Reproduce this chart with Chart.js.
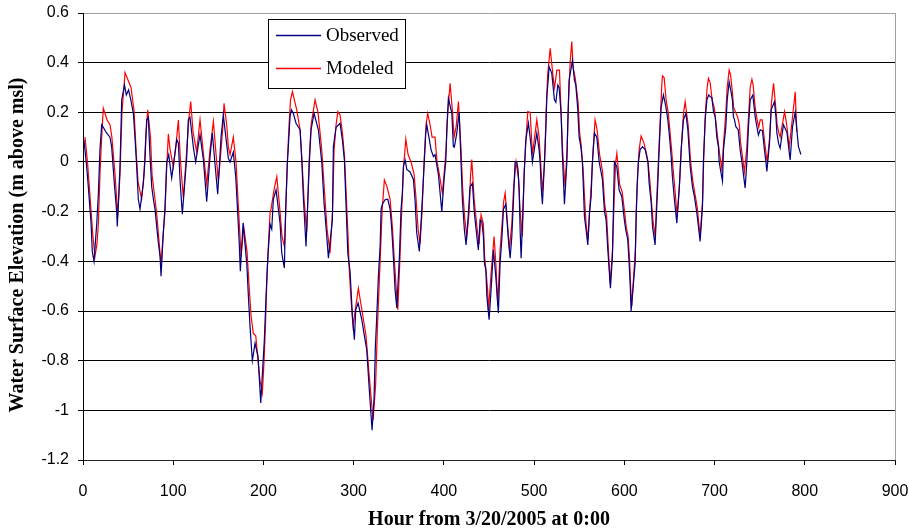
<!DOCTYPE html>
<html>
<head>
<meta charset="utf-8">
<style>
  html, body { margin: 0; padding: 0; background: #fff; }
  #wrap { width: 909px; height: 532px; position: relative; }
</style>
<script src="https://cdn.jsdelivr.net/npm/chart.js@4.4.1/dist/chart.umd.min.js"></script>
</head>
<body>
<div id="wrap"><canvas id="c" width="909" height="532"></canvas></div>
<script>
const xTickValues = [0, 100, 200, 300, 400, 500, 600, 700, 800, 900];
const yTickValues = [-1.2, -1.0, -0.8, -0.6, -0.4, -0.2, 0, 0.2, 0.4, 0.6];
const seriesNames = ['Observed', 'Modeled'];
const xTitle = 'Hour from 3/20/2005 at 0:00';
const yTitle = 'Water Surface Elevation (m above msl)';

const obsHours = [1,4.1,5.9,8.9,10.3,12.2,15.2,17,18.8,20.7,22.5,25.5,29.9,31.8,34.7,37.4,38,41,42.9,46,48,50.5,53,55.8,57.6,59.5,61.3,63.2,66.9,68.7,70.6,72.4,74.3,76.2,78,79.8,81.7,83.5,85.4,86.5,89,90.9,92.8,95,98.3,103.9,105.7,107.5,110.1,115,116.7,118.6,122.3,124.9,129.7,133.4,137.1,140.8,143.3,149.3,153,155.5,159.3,161.1,163,166.6,169.3,171.5,173,174.4,177.4,181.5,183.3,185.1,187.7,190.7,194,196.2,197,201,202.9,204.8,207.3,209.2,211,214,218.4,220.3,223.2,224.7,226.5,227.6,229.5,231,233.1,236.1,240.6,242.5,244.2,247.2,250.9,252.8,256.1,260.9,264.6,267.2,270.2,272,276.4,277.5,280.5,284.9,287.5,289.7,291.2,293.5,296,298.6,300.8,302.3,304.9,309,312.6,314.5,317,320.4,322.6,324,325.6,327.4,329.3,330.4,331.8,334.8,337.8,340.4,342.2,344,345.9,347.8,350.7,352.5,354,355.1,357,358.9,362.5,366.2,368,369.9,372.8,375.5,378,379.9,381,385.8,388.4,390.2,393.9,397.7,400.2,402.1,403.2,405,408.8,410.5,411.6,414.3,416.9,419,420.5,422.7,424.6,427.2,429,431.6,433.8,436.5,438.2,440.1,442,443.8,444.9,446.5,447.6,450.1,452.3,454.9,457.5,460.4,462.3,464.2,466,468.6,471.5,473.4,475.3,477,478.9,480.8,482.2,483.4,484.5,485.6,489.2,490.8,493.7,496.7,498.1,503,505.5,506.7,507.8,509.2,511.1,513,514.1,515.9,516.6,519.6,522.5,524.1,526.3,527.7,529.9,531.4,533.6,536.3,537.4,538.8,542.5,544.7,546.2,548.4,549.9,551.8,553.5,554.7,555.8,557.6,559.5,561.3,563.2,564.6,566.9,569.5,572.1,575.7,578,579.8,581.7,584.6,586.8,587.9,589,591.6,594.2,597.2,600,601.6,603.8,605.3,606.4,607.5,610.1,612,613.1,614.2,615.6,617.5,620.1,623.1,626.1,627.5,629.8,631.2,634.1,637.1,638.6,639.7,640.8,643.3,646,648.2,649.7,651.9,653.3,655.5,658.2,660.8,663,665.5,668.2,670.4,673,675.5,677.7,680.4,684,686.6,687.7,689.6,691.5,693.5,695.1,697,698.8,700.7,702.5,704.3,705.1,708.8,709.9,712.5,714,716.2,718.4,719.8,720.9,722.1,723.6,726.2,728.4,730.3,733.9,735.8,737.6,739.5,742.4,745,746.9,748.6,750.6,753.1,755.3,756.9,758,760.9,762.7,766.4,768,769.1,770.9,772.7,776.4,780.2,782,783.8,786.4,789.4,793,795.7];
const obsValues = [0.09,-0.02,-0.10,-0.245,-0.36,-0.40,-0.25,-0.13,0.05,0.15,0.14,0.12,0.10,0.06,-0.085,-0.205,-0.26,-0.02,0.25,0.31,0.27,0.29,0.25,0.196,0.10,-0.02,-0.15,-0.19,-0.085,0.008,0.17,0.18,0.022,-0.10,-0.15,-0.19,-0.26,-0.325,-0.38,-0.46,-0.286,-0.18,0.0,0.03,-0.065,0.09,0.076,-0.07,-0.21,0.02,0.17,0.18,0.06,0.0,0.11,0.01,-0.16,0.02,0.117,-0.13,0.10,0.19,0.07,0.015,0.0,0.04,-0.06,-0.21,-0.313,-0.44,-0.246,-0.407,-0.54,-0.66,-0.80,-0.73,-0.783,-0.92,-0.97,-0.716,-0.54,-0.39,-0.25,-0.27,-0.15,-0.112,-0.246,-0.367,-0.427,-0.18,-0.005,0.062,0.183,0.21,0.196,0.156,0.13,0.008,-0.14,-0.34,0.0,0.13,0.196,0.129,0.0,-0.166,-0.3,-0.387,-0.233,0.062,0.14,0.156,0.089,0.008,-0.14,-0.367,-0.44,-0.62,-0.716,-0.595,-0.568,-0.635,-0.716,-0.756,-0.90,-1.08,-0.95,-0.75,-0.62,-0.46,-0.34,-0.19,-0.17,-0.152,-0.15,-0.19,-0.27,-0.38,-0.515,-0.588,-0.38,-0.19,-0.125,-0.018,0.008,-0.03,-0.04,-0.07,-0.152,-0.286,-0.36,-0.19,-0.02,0.116,0.15,0.049,0.022,0.03,-0.05,-0.2,-0.07,0.0,0.13,0.257,0.196,0.062,0.06,0.116,0.2,0.0,-0.152,-0.273,-0.334,-0.206,-0.1,-0.085,-0.206,-0.3,-0.354,-0.233,-0.24,-0.3,-0.407,-0.434,-0.54,-0.635,-0.515,-0.354,-0.46,-0.608,-0.407,-0.313,-0.19,-0.17,-0.313,-0.387,-0.30,-0.166,0.0,0.0,-0.03,-0.112,-0.273,-0.387,-0.03,0.089,0.156,0.062,0.0,0.116,0.05,0.0,-0.1,-0.17,-0.03,0.13,0.263,0.344,0.384,0.357,0.25,0.24,0.31,0.30,0.196,0.022,-0.17,0.0,0.17,0.33,0.41,0.33,0.31,0.21,0.1,0.062,0.0,-0.112,-0.22,-0.273,-0.334,-0.206,-0.14,0.0,0.116,0.10,0.0,-0.07,-0.2,-0.233,-0.354,-0.508,-0.38,-0.19,0.0,-0.018,-0.112,-0.14,-0.233,-0.273,-0.313,-0.407,-0.488,-0.60,-0.488,-0.407,-0.22,-0.1,0.0,0.05,0.062,0.05,0.0,-0.085,-0.166,-0.26,-0.334,-0.085,0.049,0.142,0.22,0.27,0.223,0.17,0.116,0.022,-0.06,-0.152,-0.246,-0.112,0.049,0.17,0.196,0.13,-0.018,-0.1,-0.14,-0.206,-0.32,-0.18,0.008,0.17,0.25,0.27,0.263,0.26,0.203,0.183,0.10,0.062,0.0,-0.078,0.049,0.142,0.25,0.323,0.28,0.25,0.183,0.17,0.142,0.13,0.049,0.0,-0.105,0.0,0.142,0.25,0.27,0.183,0.142,0.109,0.13,0.126,0.049,0.0,-0.038,0.076,0.21,0.243,0.183,0.116,0.076,0.056,0.15,0.12,0.062,0.008,0.142,0.2,0.062,0.03];

const modHours = [2.2,5,8,11,13.3,15.5,17,18.8,20.7,22.5,26.6,29.9,32,35.5,37.7,38.5,41,43.2,46.6,49.9,53.2,56.5,58.8,61,65,67.6,69.5,71.7,74.8,76.5,79.8,82,84.3,86.5,88.7,90.9,92.8,94.6,96.5,100.1,103.1,105.7,108.1,111.2,115,117.5,119.4,122,126,129.7,133,137.1,140.8,144.5,150,153,155.2,156.3,159.3,161.1,163,166.6,169.6,171.8,174,175.2,178.1,181.8,184.1,186.3,188.8,191.5,194,196.2,198.8,200.7,202.3,204,205.7,207.3,208.4,211.8,214.8,218.4,220.6,223.2,224.7,226.5,228.4,230,232.1,236.9,240.6,242.8,245,248,250.6,252.8,257.2,260.5,264.6,267.7,270.5,273.8,276.6,278.3,280.5,282.4,284.9,287.5,289.9,291.6,293.8,294.9,297.1,299.3,305.2,309.3,313.7,317,321.5,324.3,326.5,328.2,329.9,331.5,334,337,340.4,343.1,344.8,347,348.9,351.4,353.3,355.3,357.8,360.3,363.6,367,369.2,371.4,373.6,375.8,378,380.2,382.1,384.7,386.9,390.2,392.4,395,398.3,400.2,402.4,404.3,406.9,409.6,411.3,413.6,416.1,419,420.7,422.9,425.4,428,429.6,430.9,433.5,436.9,439,441.2,443.8,445.1,446.8,448.5,449.4,452.3,455.6,457.8,459.7,462.3,464.5,466.2,467.9,471.2,472.6,475.3,477.3,480,482.8,484.5,487,488.9,491.1,493,495.6,496.8,498.1,503,505.5,507.2,509.2,511.6,513.3,515,517.8,518.9,521.4,522.7,525.2,528.1,529.9,531.5,534.3,536.6,538.2,539.9,541.8,543.2,545.5,548.8,550.4,552.1,554.3,556,557.6,559.9,561.5,563.2,565.4,567.6,569.8,572.6,575.9,578.2,580.4,582,584.3,587,588.7,590.4,591.7,594.8,597.6,600.6,602,604.2,605.9,607,608.3,610.5,612.3,613.4,614.7,616.4,618.6,621.4,624.2,626.4,628.6,630.3,631.9,634.1,637.1,638.9,640.2,641.4,642.2,644.1,646.3,648.6,650.2,652.4,654.1,656.3,658.5,661.3,663.5,665.7,667.4,670.7,673.5,676,677.9,680.7,684,686.8,688.1,689.9,691.8,693.2,695.1,697.3,699.6,701.8,704,705.7,708.1,710.1,712.5,714,716.2,717.8,719.8,721.1,723.3,725.7,727.5,728.8,730.6,733.1,735.6,737.6,739.5,741.4,742.8,745,747.2,748.9,750.6,752.8,755.5,757.2,758.3,761.1,763.1,765.4,767.8,769.4,771.1,772.7,777.6,780,781.7,782.8,786.1,789.4,791.2];
const modValues = [0.10,0.0,-0.15,-0.30,-0.38,-0.33,-0.25,-0.05,0.10,0.216,0.17,0.15,0.10,-0.05,-0.17,-0.22,-0.05,0.20,0.36,0.33,0.30,0.21,0.05,-0.08,-0.15,-0.05,0.10,0.21,0.10,-0.05,-0.15,-0.22,-0.32,-0.414,-0.30,-0.20,-0.02,0.113,0.05,-0.02,0.07,0.169,0.0,-0.146,0.05,0.18,0.243,0.12,0.04,0.17,0.05,-0.09,0.05,0.163,-0.08,0.05,0.15,0.236,0.15,0.06,0.03,0.10,0.0,-0.15,-0.30,-0.38,-0.26,-0.36,-0.50,-0.62,-0.69,-0.70,-0.80,-0.88,-0.93,-0.80,-0.65,-0.45,-0.32,-0.206,-0.19,-0.11,-0.059,-0.20,-0.30,-0.34,-0.20,0.0,0.15,0.25,0.283,0.21,0.13,0.0,-0.15,-0.28,0.0,0.15,0.25,0.20,0.05,-0.12,-0.27,-0.367,-0.20,0.05,0.15,0.203,0.19,0.12,0.02,-0.12,-0.30,-0.42,-0.555,-0.66,-0.508,-0.60,-0.70,-0.85,-1.04,-0.90,-0.65,-0.50,-0.35,-0.20,-0.072,-0.10,-0.15,-0.27,-0.38,-0.50,-0.595,-0.38,-0.19,-0.02,0.092,0.03,0.0,-0.05,-0.15,-0.27,-0.33,-0.20,0.0,0.15,0.196,0.15,0.10,0.10,0.0,-0.05,-0.125,-0.05,0.05,0.20,0.317,0.20,0.10,0.142,0.243,0.05,-0.10,-0.22,-0.30,-0.20,-0.05,0.01,-0.15,-0.27,-0.33,-0.213,-0.25,-0.38,-0.44,-0.52,-0.60,-0.45,-0.30,-0.42,-0.58,-0.35,-0.25,-0.16,-0.125,-0.28,-0.35,-0.25,-0.10,0.0,-0.07,-0.20,-0.30,-0.05,0.10,0.203,0.20,0.12,0.03,0.17,0.10,0.0,-0.12,0.0,0.20,0.35,0.458,0.42,0.33,0.30,0.37,0.37,0.20,0.05,-0.10,0.05,0.25,0.40,0.485,0.38,0.34,0.24,0.12,0.07,-0.03,-0.15,-0.25,-0.31,-0.20,-0.10,0.05,0.17,0.13,0.03,-0.04,-0.17,-0.22,-0.33,-0.488,-0.35,-0.15,0.0,0.035,-0.09,-0.12,-0.21,-0.26,-0.30,-0.40,-0.50,-0.58,-0.45,-0.35,-0.18,-0.05,0.05,0.105,0.08,0.04,0.0,-0.09,-0.17,-0.24,-0.30,-0.05,0.10,0.20,0.30,0.347,0.34,0.25,0.20,0.14,0.05,-0.03,-0.12,-0.22,-0.08,0.08,0.20,0.243,0.15,0.0,-0.08,-0.12,-0.18,-0.30,-0.15,0.03,0.20,0.30,0.337,0.32,0.25,0.22,0.15,0.08,0.03,-0.03,0.08,0.20,0.30,0.37,0.35,0.28,0.22,0.20,0.18,0.15,0.08,0.03,-0.04,0.05,0.18,0.30,0.333,0.31,0.22,0.17,0.14,0.17,0.17,0.08,0.03,0.0,0.10,0.24,0.317,0.22,0.15,0.12,0.10,0.203,0.15,0.09,0.06,0.17,0.283,0.12];

const obsColor = '#000080';
const modColor = '#ff0000';

function pairs(hs, vs) { return hs.map((h, i) => ({ x: h, y: vs[i] })); }

const overlay = {
  id: 'overlay',
  afterDraw(chart) {
    const ctx = chart.ctx;
    const a = chart.chartArea;
    ctx.save();
    // right border of plot area
    ctx.strokeStyle = '#a0a0a0';
    ctx.lineWidth = 1;
    ctx.beginPath();
    ctx.moveTo(Math.round(a.right) + 0.5, a.top);
    ctx.lineTo(Math.round(a.right) + 0.5, a.bottom);
    ctx.stroke();

    // legend box
    ctx.fillStyle = '#fff';
    ctx.fillRect(268, 19, 137, 69);
    ctx.strokeStyle = '#000';
    ctx.lineWidth = 1;
    ctx.strokeRect(268.5, 19.5, 137, 69);
    const cols = [obsColor, modColor];
    const ys = [35, 68];
    ctx.font = '19px "Liberation Serif", "Times New Roman", serif';
    ctx.textBaseline = 'middle';
    ctx.textAlign = 'left';
    for (let i = 0; i < 2; i++) {
      ctx.strokeStyle = cols[i];
      ctx.lineWidth = 1.5;
      ctx.beginPath();
      ctx.moveTo(276, ys[i] + 0.5);
      ctx.lineTo(321, ys[i] + 0.5);
      ctx.stroke();
      ctx.fillStyle = '#000';
      ctx.fillText(seriesNames[i], 326, ys[i] + 1);
    }

    // axis titles
    ctx.fillStyle = '#000';
    ctx.font = 'bold 20px "Liberation Serif", "Times New Roman", serif';
    ctx.textAlign = 'center';
    ctx.textBaseline = 'middle';
    ctx.fillText(xTitle, 489, 520);
    ctx.translate(18, 245);
    ctx.rotate(-Math.PI / 2);
    ctx.fillText(yTitle, 0, 0);
    ctx.restore();
  }
};

new Chart(document.getElementById('c'), {
  type: 'line',
  data: {
    datasets: [
      { label: seriesNames[0], data: pairs(obsHours, obsValues), borderColor: obsColor, borderWidth: 1.2, pointRadius: 0, tension: 0, fill: false },
      { label: seriesNames[1], data: pairs(modHours, modValues), borderColor: modColor, borderWidth: 1.2, pointRadius: 0, tension: 0, fill: false }
    ]
  },
  options: {
    responsive: false,
    animation: false,
    devicePixelRatio: 1,
    layout: { padding: { top: 13, right: 14, left: 0, bottom: 0 } },
    plugins: { legend: { display: false }, tooltip: { enabled: false }, title: { display: false } },
    scales: {
      x: {
        type: 'linear', min: 0, max: 900,
        afterBuildTicks(s) { s.ticks = xTickValues.map(v => ({ value: v })); },
        afterFit(s) { s.height = 72; s.paddingLeft = 0; s.paddingRight = 0; },
        ticks: { autoSkip: false, maxRotation: 0, color: '#000', padding: 17,
                 font: { family: '"Liberation Sans", Arial, sans-serif', size: 16 },
                 callback: v => String(v) },
        grid: { drawOnChartArea: false, drawTicks: true, tickLength: 5, color: '#000' },
        border: { color: '#222', width: 1 }
      },
      y: {
        type: 'linear', min: -1.2, max: 0.6,
        afterBuildTicks(s) { s.ticks = yTickValues.map(v => ({ value: v })); },
        afterFit(s) { s.width = 83; s.paddingTop = 0; s.paddingBottom = 0; },
        ticks: { autoSkip: false, color: '#000', padding: 9,
                 font: { family: '"Liberation Sans", Arial, sans-serif', size: 16 },
                 callback: v => String(Math.round(v * 10) / 10) },
        grid: { drawTicks: true, tickLength: 5, tickColor: '#000',
                color: c => (c.tick && Math.abs(c.tick.value - 0.6) < 1e-9) ? '#a0a0a0' : '#000' },
        border: { color: '#000', width: 1 }
      }
    }
  },
  plugins: [overlay]
});
</script>
</body>
</html>
